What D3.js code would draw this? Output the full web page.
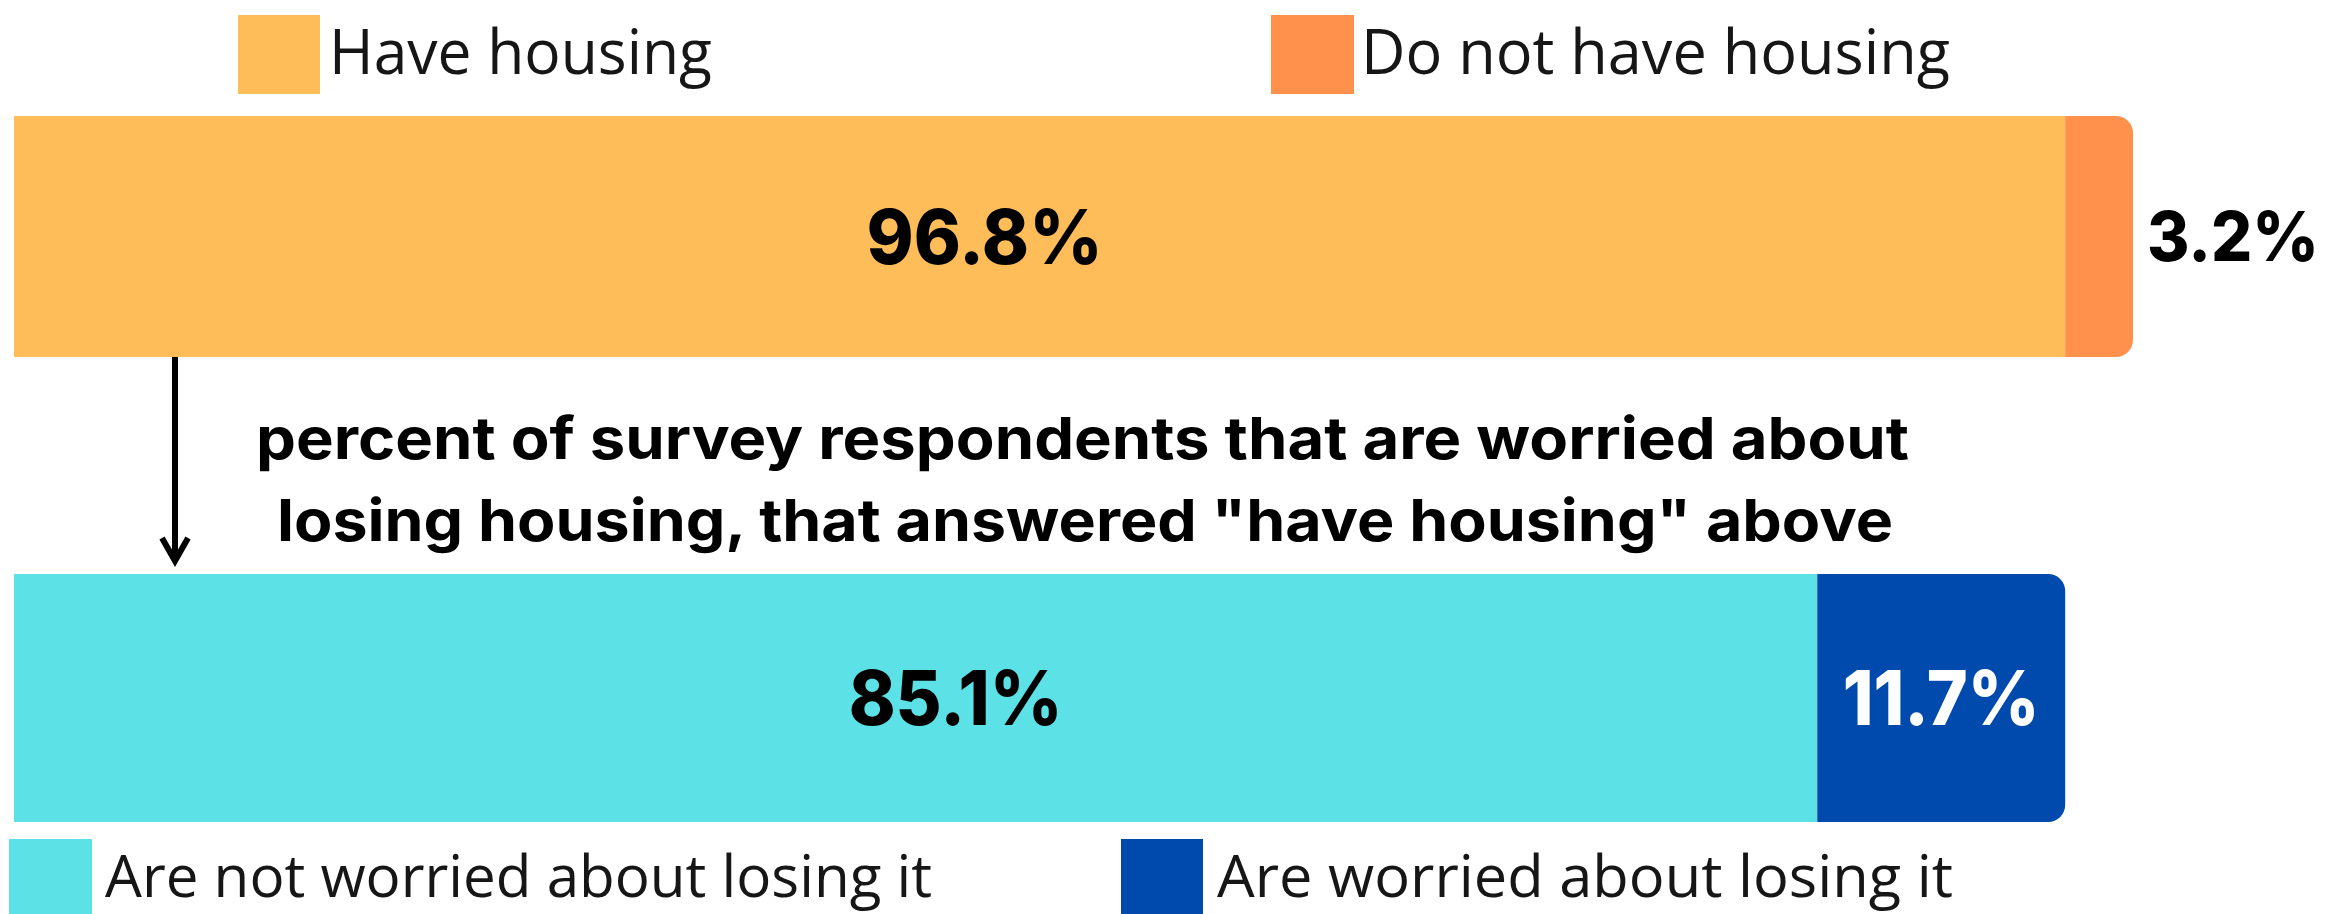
<!DOCTYPE html>
<html>
<head>
<meta charset="utf-8">
<script src="https://cdn.jsdelivr.net/npm/d3@7"></script>
<style>
  html, body { margin: 0; padding: 0; background: #fff; }
  svg { display: block; }
  .legend text { font-family: "Open Sans", sans-serif; fill: #161616; }
  .pct { font-family: Inter, "Open Sans", sans-serif; font-weight: 800; }
  .note { font-family: Inter, "Open Sans", sans-serif; font-weight: 700; fill: #000; }
</style>
</head>
<body>
<div id="chart"></div>
<script>
// data
const topCategories = ["Have housing", "Do not have housing"]
const topValues = [96.8, 3.2]
const bottomCategories = ["Are not worried about losing it", "Are worried about losing it"]
const bottomValues = [85.1, 11.7]
const topColors = ["#FFBD59", "#FF914D"]
const bottomColors = ["#5CE1E6", "#004AAD"]
const noteLines = [
  "percent of survey respondents that are worried about",
  "losing housing, that answered \"have housing\" above"
]

let width = 2333
let height = 914

let x = d3.scaleLinear().domain([0, 100]).range([14, 2133])

let svg = d3.select('#chart').append('svg')
  .attr('width', width)
  .attr('height', height)

// square on the left, rounded on the right
function segPath(x0, x1, y0, y1, r) {
  let p = d3.path()
  p.moveTo(x0, y0)
  p.lineTo(x1 - r, y0)
  p.arcTo(x1, y0, x1, y0 + r, r)
  p.lineTo(x1, y1 - r)
  p.arcTo(x1, y1, x1 - r, y1, r)
  p.lineTo(x0, y1)
  p.closePath()
  return p.toString()
}

let rows = [
  { key: 'top', cats: topCategories, values: topValues, colors: topColors, y0: 116, y1: 357,
    labelShift: -55, labelFill: ['#000', '#000'], labelWidth: [236, 172], outsideLast: true },
  { key: 'bottom', cats: bottomCategories, values: bottomValues, colors: bottomColors, y0: 574, y1: 822,
    labelShift: 40, labelFill: ['#000', '#fff'], labelWidth: [214, 197], outsideLast: false }
]

rows.forEach(row => {
  let acc = 0
  let segs = row.values.map((v, i) => {
    let s = { cat: row.cats[i], value: v, start: acc, end: acc + v, color: row.colors[i], i: i }
    acc += v
    return s
  })
  let n = segs.length
  let g = svg.append('g').attr('class', 'bar-' + row.key)

  g.selectAll('path')
    .data(segs)
    .enter().append('path')
      .attr('d', d => segPath(x(d.start), x(d.end), row.y0, row.y1, d.i == n - 1 ? 17 : 0))
      .style('fill', d => d.color)

  let cy = (row.y0 + row.y1) / 2
  let outside = d => d.i == n - 1 && row.outsideLast
  g.selectAll('text')
    .data(segs)
    .enter().append('text')
      .attr('class', 'pct')
      .attr('font-size', d => outside(d) ? 69 : 76)
      .attr('dy', '0.36em')
      .attr('y', cy)
      .attr('x', d => {
        if (outside(d)) return x(d.end) + 14
        if (d.i == 0) return (x(d.start) + x(d.end)) / 2 + row.labelShift
        return (x(d.start) + x(d.end)) / 2
      })
      .attr('text-anchor', d => outside(d) ? 'start' : 'middle')
      .attr('textLength', d => row.labelWidth[d.i])
      .attr('lengthAdjust', 'spacingAndGlyphs')
      .style('fill', d => row.labelFill[d.i])
      .text(d => d.value.toFixed(1) + '%')
})

// legends
function legend(items, colors, sw, tx, widths, y0, y1, baseline, fontSize) {
  let g = svg.append('g').attr('class', 'legend')
  let it = g.selectAll('g')
    .data(items)
    .enter().append('g')
  it.append('rect')
    .attr('x', (d, i) => sw[i][0])
    .attr('width', (d, i) => sw[i][1] - sw[i][0])
    .attr('y', y0)
    .attr('height', y1 - y0)
    .style('fill', (d, i) => colors[i])
  it.append('text')
    .attr('x', (d, i) => tx[i])
    .attr('y', baseline)
    .attr('font-size', fontSize)
    .attr('textLength', (d, i) => widths[i])
    .attr('lengthAdjust', 'spacingAndGlyphs')
    .text(d => d)
}

legend(topCategories, topColors, [[238, 320], [1271, 1354]], [329, 1361], [383, 589], 15, 94, 74, 62)
legend(bottomCategories, bottomColors, [[9, 92], [1121, 1203]], [105, 1217], [827, 736], 839, 914, 897, 58)

// arrow from top bar to bottom bar
let arrow = svg.append('g')
  .style('stroke', '#000')
  .style('stroke-width', 6)
  .style('fill', 'none')
arrow.append('line')
  .attr('x1', 175).attr('x2', 175)
  .attr('y1', 357).attr('y2', 559)
arrow.append('path')
  .attr('d', 'M162,538 L175,561 L188,538')
  .style('stroke-linejoin', 'miter')

// note between bars
svg.append('g').selectAll('text')
  .data(noteLines)
  .enter().append('text')
    .attr('class', 'note')
    .attr('x', (d, i) => i == 0 ? 256 : 277)
    .attr('y', (d, i) => i == 0 ? 459 : 541)
    .attr('font-size', 58)
    .attr('textLength', (d, i) => i == 0 ? 1653 : 1616)
    .attr('lengthAdjust', 'spacingAndGlyphs')
    .text(d => d)
</script>
</body>
</html>
